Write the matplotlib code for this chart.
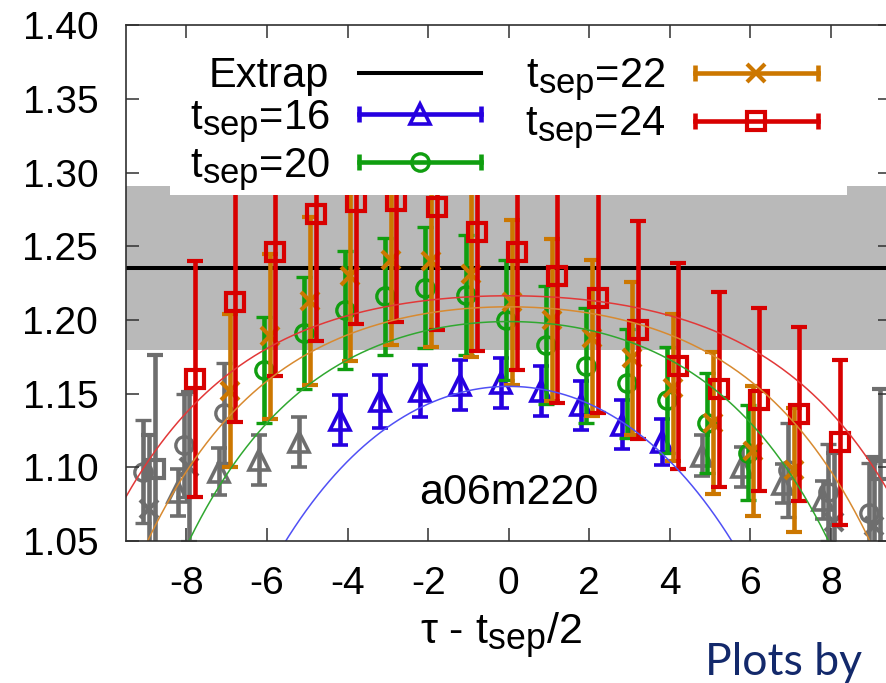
import numpy as np
import matplotlib
matplotlib.use('Agg')
import matplotlib.pyplot as plt
import matplotlib._mathtext as mathtext_internal
from matplotlib.lines import Line2D
from matplotlib.patches import Rectangle
from matplotlib.legend_handler import HandlerLine2D, HandlerTuple

plt.rcParams['font.family'] = ['Liberation Sans', 'DejaVu Sans']
plt.rcParams['axes.unicode_minus'] = False
# gnuplot subscripts are bigger than matplotlib's default 0.7
mathtext_internal.SHRINK_FACTOR = 0.83

# extrapolated value (black line) and its error (grey band)
extrap_val = 1.2355
extrap_err = 0.0555

# tsep = 16, points used in the fit
x16 = [-4, -3, -2, -1, 0, 1, 2, 3, 4]
y16 = [1.132, 1.145, 1.152, 1.156, 1.157, 1.152, 1.142, 1.129, 1.117]
e16 = [0.017, 0.018, 0.0175, 0.017, 0.017, 0.017, 0.0165, 0.0165, 0.0155]
# tsep = 16, points left out of the fit (grey)
x16_out = [-8, -7, -6, -5, 5, 6, 7, 8]
y16_out = [1.083, 1.097, 1.105, 1.117, 1.108, 1.100, 1.089, 1.078]
e16_out = [0.016, 0.016, 0.017, 0.017, 0.014, 0.0135, 0.013, 0.013]

# tsep = 20
x20 = [-6, -5, -4, -3, -2, -1, 0, 1, 2, 3, 4, 5, 6]
y20 = [1.166, 1.191, 1.207, 1.216, 1.222, 1.217, 1.200, 1.183, 1.169, 1.157, 1.146, 1.130, 1.110]
e20 = [0.036, 0.038, 0.040, 0.040, 0.041, 0.041, 0.041, 0.040, 0.039, 0.037, 0.036, 0.034, 0.032]
x20_out = [-9, -8, -7, 7, 8, 9]
y20_out = [1.097, 1.115, 1.137, 1.098, 1.083, 1.069]
e20_out = [0.035, 0.035, 0.034, 0.032, 0.033, 0.034]

# tsep = 22
x22 = [-7, -6, -5, -4, -3, -2, -1, 0, 1, 2, 3, 4, 5, 6, 7]
y22 = [1.152, 1.189, 1.213, 1.230, 1.241, 1.240, 1.231, 1.212, 1.200, 1.188, 1.174, 1.154, 1.130, 1.111, 1.098]
e22 = [0.052, 0.056, 0.057, 0.058, 0.058, 0.058, 0.056, 0.056, 0.055, 0.053, 0.052, 0.050, 0.048, 0.044, 0.042]
x22_out = [-9, -8, 8, 9]
y22_out = [1.072, 1.100, 1.063, 1.060]
e22_out = [0.050, 0.051, 0.047, 0.047]

# tsep = 24
x24 = [-8, -7, -6, -5, -4, -3, -2, -1, 0, 1, 2, 3, 4, 5, 6, 7, 8]
y24 = [1.160, 1.212, 1.246, 1.272, 1.280, 1.281, 1.277, 1.260, 1.246, 1.230, 1.215, 1.193, 1.169, 1.153, 1.146, 1.136, 1.117]
e24 = [0.080, 0.081, 0.084, 0.086, 0.083, 0.082, 0.084, 0.081, 0.080, 0.086, 0.078, 0.074, 0.070, 0.066, 0.062, 0.059, 0.056]
x24_out = [-9, 9]
y24_out = [1.099, 1.098]
e24_out = [0.077, 0.055]

# fit curves: peak - amp*(cosh(mass*x) - 1), one per tsep (16, 20, 22, 24)
fit_peak = [1.155, 1.199, 1.209, 1.2165]
fit_amp = [0.0937, 0.0277, 0.0203, 0.0144]
fit_mass = [0.25, 0.32, 0.32, 0.32]

fig = plt.figure(figsize=(8.87, 6.83), dpi=100)
ax = fig.add_axes([0.14205, 0.2079, 0.8630, 0.7548])

ax.axhspan(extrap_val - extrap_err, extrap_val + extrap_err, color='#b9b9b9', lw=0, zorder=0.5)
ax.axhline(extrap_val, color='black', lw=2.9, zorder=1)

grey = '#6e6e6e'
lw_bar = 3.3
series = [
    # x, y, err, x_out, y_out, err_out, shift, colour, marker, ms, mew, curve colour
    (x16, y16, e16, x16_out, y16_out, e16_out, -0.2, '#2600e0', '^', 14.5, 2.6, '#5050f5'),
    (x20, y20, e20, x20_out, y20_out, e20_out, -0.07, '#109e10', 'o', 12.5, 2.4, '#30a830'),
    (x22, y22, e22, x22_out, y22_out, e22_out, 0.07, '#cc7700', 'x', 12.5, 3.0, '#d88a30'),
    (x24, y24, e24, x24_out, y24_out, e24_out, 0.21, '#d80000', 's', 13.5, 3.0, '#e23838'),
]

z = 2
for x, y, e, xo, yo, eo, dx, col, mk, ms, mew, ccol in series:
    ax.errorbar(np.array(xo) + dx, yo, yerr=eo, fmt=mk, color=grey, mfc='none',
                ms=ms, mew=mew, elinewidth=lw_bar, capsize=6, capthick=lw_bar, zorder=z)
    z += 0.1
for x, y, e, xo, yo, eo, dx, col, mk, ms, mew, ccol in series:
    ax.errorbar(np.array(x) + dx, y, yerr=e, fmt=mk, color=col, mfc='none',
                ms=ms, mew=mew, elinewidth=lw_bar, capsize=6, capthick=lw_bar, zorder=z)
    z += 1

xs = np.linspace(-9.5, 9.5, 400)
for i, s in enumerate(series):
    curve = fit_peak[i] - fit_amp[i] * (np.cosh(fit_mass[i] * xs) - 1)
    ax.plot(xs, curve, color=s[11], lw=1.1, zorder=8)

ax.text(0, 1.0827, 'a06m220', fontsize=31, ha='center', va='center', zorder=8)

# opaque key box
ax.add_patch(Rectangle((0.0575, 0.6712), 0.8844, 0.3288, transform=ax.transAxes,
                       facecolor='white', edgecolor='none', zorder=9))

handles = [Line2D([], [], color='black', lw=2.9)]
hmap = {tuple: HandlerTuple(ndivide=1, pad=0)}
for x, y, e, xo, yo, eo, dx, col, mk, ms, mew, ccol in series:
    bar = Line2D([], [], color=col, lw=lw_bar, marker='|', ms=11, mew=lw_bar)
    pt = Line2D([], [], color=col, ls='none', marker=mk, ms=ms, mew=mew, mfc='none')
    hmap[bar] = HandlerLine2D(numpoints=2, marker_pad=0)
    hmap[pt] = HandlerLine2D(numpoints=1)
    handles.append((bar, pt))
labels = ['Extrap', r't$_\mathregular{sep}$=16', r't$_\mathregular{sep}$=20',
          r't$_\mathregular{sep}$=22', r't$_\mathregular{sep}$=24']
leg = ax.legend(handles, labels, handler_map=hmap, ncol=2, markerfirst=False,
                loc='upper left', bbox_to_anchor=(0.083, 0.94), frameon=False,
                fontsize=30, handlelength=2.95, handletextpad=0.7, columnspacing=1.05,
                labelspacing=0.03, borderpad=0, borderaxespad=0)
leg.set_zorder(11)

ax.set_xlim(-9.5, 9.5)
ax.set_ylim(1.05, 1.40)
ax.set_xticks(np.arange(-8, 9, 2))
ax.set_yticks(np.arange(1.05, 1.401, 0.05))
ax.yaxis.set_major_formatter(matplotlib.ticker.FormatStrFormatter('%.2f'))
ax.tick_params(direction='in', length=9.4, width=1.1, top=True, right=True,
               labelsize=28, color='#303030')
ax.tick_params(axis='x', pad=18)
ax.tick_params(axis='y', pad=20)
for sp in ax.spines.values():
    sp.set_color('#303030')
    sp.set_linewidth(1.2)
    sp.set_zorder(12)
ax.xaxis.set_zorder(12)
ax.yaxis.set_zorder(12)

ax.set_xlabel(r'τ - t$_\mathregular{sep}$/2', fontsize=31)
ax.xaxis.set_label_coords(0.49, -0.135)

fig.text(705 / 887, 8 / 683, 'Plots by', fontsize=32, color='#13296b',
         family=['Lato', 'DejaVu Sans'], ha='left', va='baseline')

fig.savefig('out.png', dpi=100)
